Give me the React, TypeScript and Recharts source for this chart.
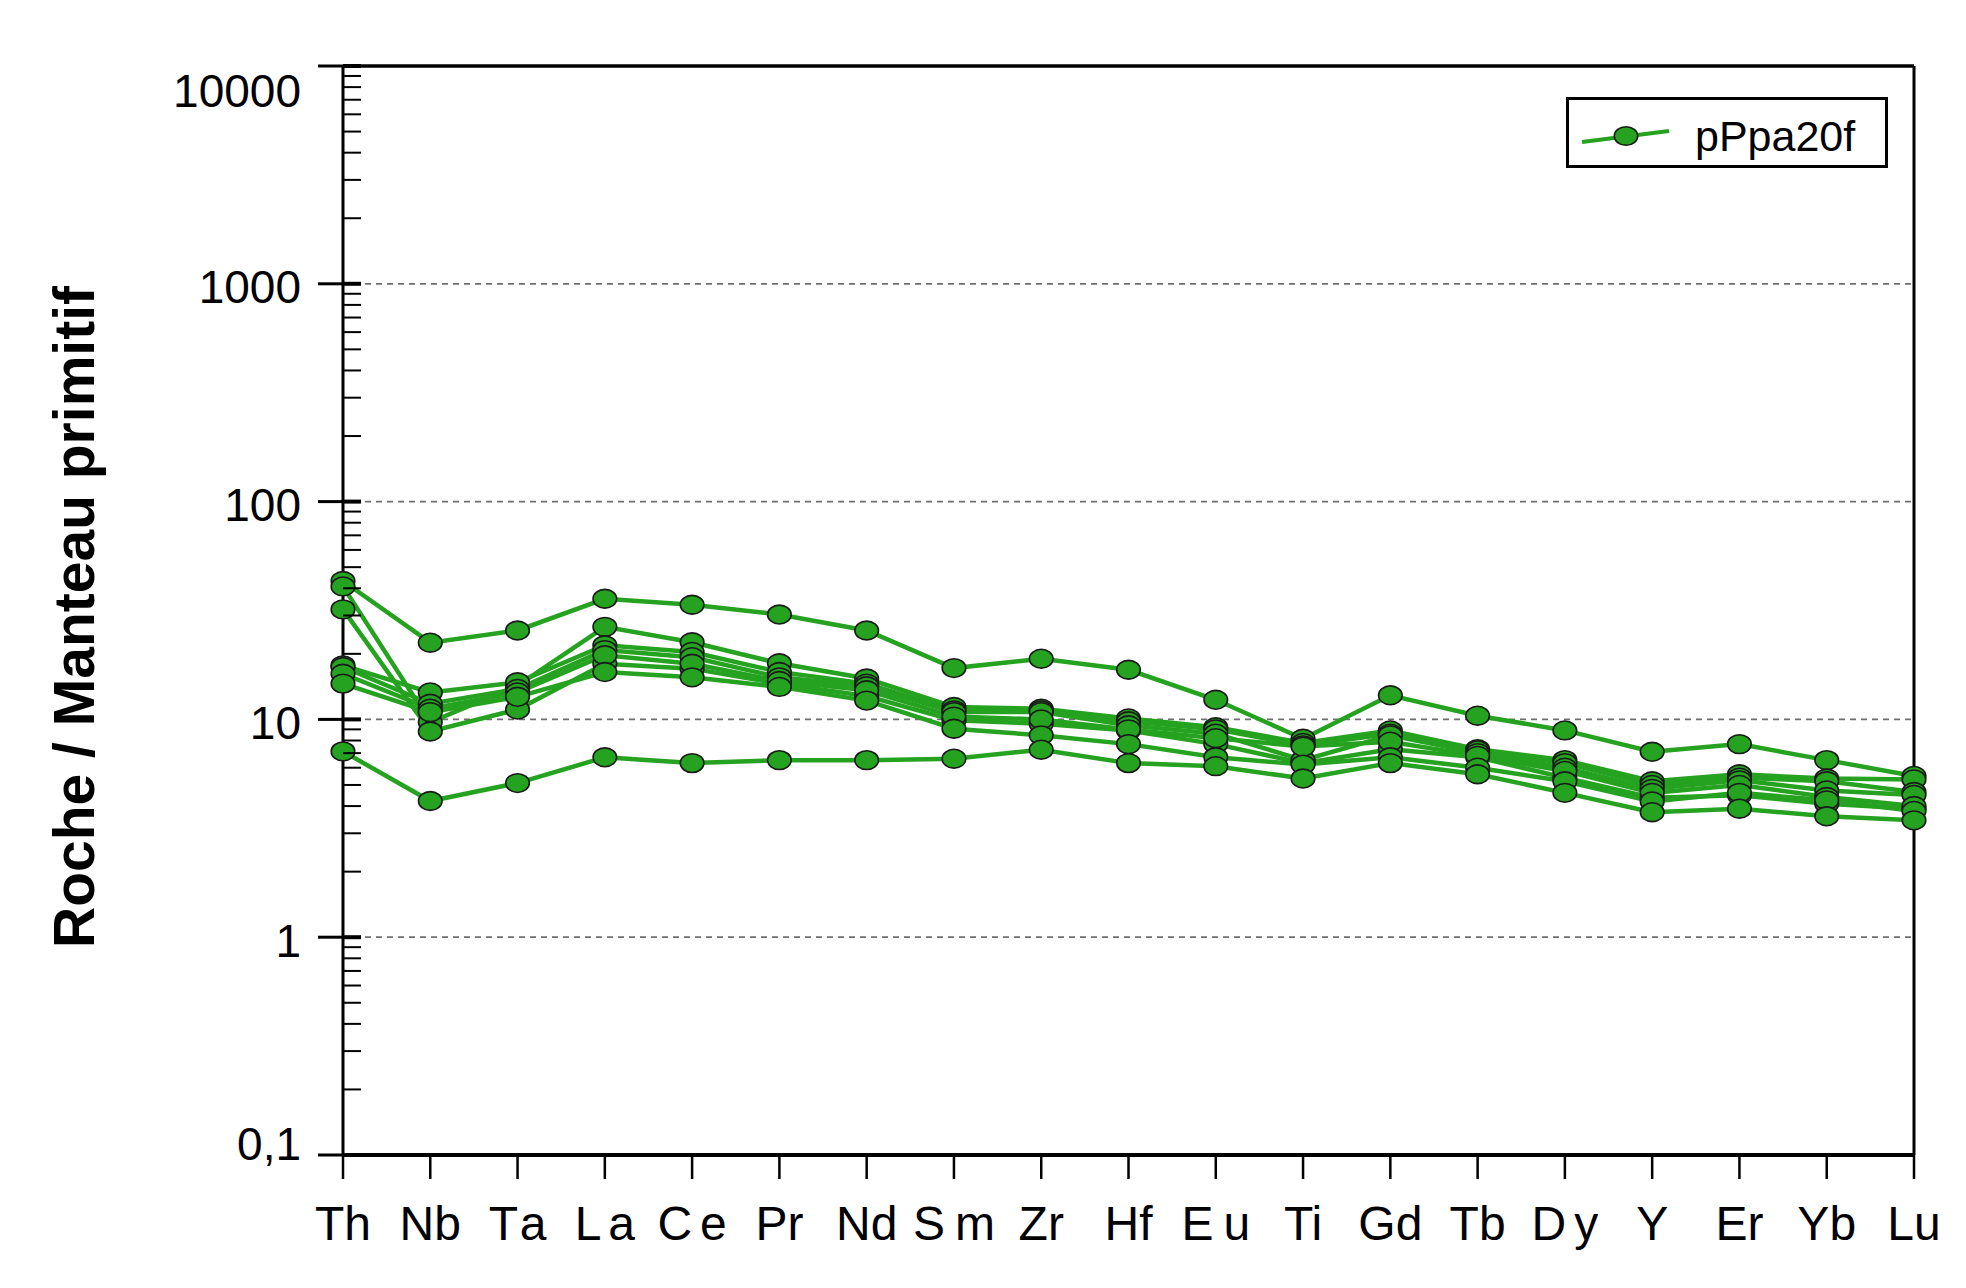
import React from 'react'
import { LineChart, Line, XAxis, YAxis, ReferenceLine, Legend } from 'recharts'

// elements on the x axis (spider diagram order)
const ELEMENTS = ['Th', 'Nb', 'Ta', 'La', 'Ce', 'Pr', 'Nd', 'Sm', 'Zr', 'Hf', 'Eu', 'Ti', 'Gd', 'Tb', 'Dy', 'Y', 'Er', 'Yb', 'Lu']

// sample / primitive mantle
const s1 = [43.2, 22.5, 25.6, 35.8, 33.6, 30.3, 25.6, 17.2, 19.0, 16.9, 12.3, 8.15, 12.9, 10.4, 8.9, 7.1, 7.7, 6.5, 5.5]
const s2 = [40.8, 9.7, 14.3, 26.6, 22.6, 18.1, 15.4, 11.4, 11.2, 10.1, 9.2, 7.8, 8.9, 7.3, 6.5, 5.2, 5.6, 5.35, 5.3]
const s3 = [32, 8.8, 11.1, 18, 17.1, 14.6, 12.8, 9.9, 9.55, 8.9, 7.7, 6.3, 7.3, 6.7, 5.4, 4.37, 4.48, 4.1, 3.89]
const s4 = [17.7, 13.3, 14.8, 21.9, 20.4, 16.5, 14.6, 11.0, 11.0, 9.8, 9.0, 7.6, 8.6, 7.2, 6.3, 5.0, 5.4, 5.2, 4.64]
const s5 = [17.4, 11.8, 13.8, 20.8, 19.3, 15.6, 14.2, 10.8, 10.8, 9.4, 8.6, 6.5, 8.45, 7.0, 6.0, 4.8, 5.25, 4.72, 4.5]
const s6 = [16.2, 11.2, 13.3, 19.7, 18, 15.0, 13.6, 10.3, 10.0, 9.0, 8.2, 7.5, 7.9, 6.8, 5.8, 4.6, 5.0, 4.4, 4.0]
const s7 = [14.6, 10.8, 12.7, 16.5, 15.6, 14.1, 12.2, 9.06, 8.45, 7.7, 6.7, 6.2, 6.7, 6.0, 5.2, 4.2, 4.6, 4.25, 3.8]
const s8 = [7.13, 4.22, 5.1, 6.7, 6.3, 6.5, 6.5, 6.6, 7.26, 6.3, 6.1, 5.35, 6.3, 5.6, 4.6, 3.75, 3.89, 3.59, 3.44]

const SERIES = [s1, s2, s3, s4, s5, s6, s7, s8]
const SERIES_NAME = 'pPpa20f'

const MAJOR_TICKS = [0.1, 1, 10, 100, 1000, 10000]
const GRID_VALUES = [1, 10, 100, 1000]
const MINOR_TICKS = [0.1, 1, 10, 100, 1000].flatMap(d => [2, 3, 4, 5, 6, 7, 8, 9].map(k => +(d * k).toPrecision(3)))
const ALL_TICKS = [...MAJOR_TICKS, ...MINOR_TICKS].sort((a, b) => a - b)

// some labels are printed with a gap between the letters in the original
const LABEL_SPACING: Record<string, number> = { Ta: 7, La: 7, Ce: 8, Sm: 10, Eu: 10, Dy: 8 }

const GREEN = '#25a21f'
const FONT = '"Liberation Sans", Arial, sans-serif'

const data = ELEMENTS.map((el, i) => {
  const row: any = { el }
  SERIES.forEach((s, j) => { row['s' + j] = s[i] })
  return row
})

function fmtTick(v: number) {
  return String(v).replace('.', ',')
}

function YTick(props: any) {
  const { x, y, payload } = props
  const v = payload.value
  const major = MAJOR_TICKS.includes(v)
  if (!major) {
    return <line x1={x} x2={x + 18} y1={y} y2={y} stroke="#000" strokeWidth={2} />
  }
  let shift = 3
  if (v === 10000) shift = 24
  if (v === 0.1) shift = -12
  return (
    <g>
      <line x1={x - 25} x2={x} y1={y} y2={y} stroke="#000" strokeWidth={3} />
      <line x1={x} x2={x + 18} y1={y} y2={y} stroke="#000" strokeWidth={4} />
      <text x={x - 42} y={y + shift} dy="0.36em" textAnchor="end" fontFamily={FONT} fontSize={46} fill="#000">
        {fmtTick(v)}
      </text>
    </g>
  )
}

function XTick(props: any) {
  const { x, y, payload } = props
  const sp = LABEL_SPACING[payload.value] || 0
  return (
    <text
      x={x + sp / 2}
      y={y}
      dy="0.71em"
      textAnchor="middle"
      fontFamily={FONT}
      fontSize={48}
      letterSpacing={sp}
      fill="#000"
    >
      {payload.value}
    </text>
  )
}

function Dot(props: any) {
  const { cx, cy } = props
  if (cx == null || cy == null) return null
  return <ellipse cx={cx} cy={cy} rx={11.8} ry={9.4} fill={GREEN} stroke="#1a1a1a" strokeWidth={1.6} />
}

function LegendBox() {
  return (
    <div style={{ width: 322, height: 71, border: '3.5px solid #000', boxSizing: 'border-box', background: '#fff' }}>
      <svg width={315} height={64}>
        <line x1={13} y1={42} x2={100} y2={31} stroke={GREEN} strokeWidth={4} />
        <ellipse cx={57} cy={36} rx={11.7} ry={9.3} fill={GREEN} stroke="#1a1a1a" strokeWidth={1.6} />
        <text x={126} y={36} dy="0.36em" fontFamily={FONT} fontSize={43} fill="#000">{SERIES_NAME}</text>
      </svg>
    </div>
  )
}

export default function App() {
  return (
    <div style={{ position: 'absolute', left: 0, top: 0, width: 1966, height: 1288, background: '#fff' }}>
      <LineChart width={1966} height={1288} data={data} margin={{ top: 66, right: 52, left: 0, bottom: 0 }}>
        <XAxis
          dataKey="el"
          type="category"
          interval={0}
          padding={{ left: 0, right: 0 }}
          height={133}
          axisLine={{ stroke: '#000', strokeWidth: 4 }}
          tickLine={{ stroke: '#000', strokeWidth: 2.5 }}
          tickSize={24}
          tickMargin={27}
          tick={<XTick />}
        />
        <YAxis
          yAxisId="y"
          type="number"
          scale="log"
          domain={[0.1, 10000]}
          allowDataOverflow
          ticks={ALL_TICKS}
          interval={0}
          width={343}
          tickSize={0}
          tickMargin={0}
          tickLine={false}
          axisLine={{ stroke: '#000', strokeWidth: 3 }}
          tick={<YTick />}
          label={{
            content: () => (
              <text
                x={94}
                y={617}
                transform="rotate(-90 94 617)"
                textAnchor="middle"
                fontFamily={FONT}
                fontWeight="bold"
                fontSize={57}
                fill="#000"
              >
                Roche / Manteau primitif
              </text>
            ),
          }}
        />
        {GRID_VALUES.map(v => (
          <ReferenceLine key={v} yAxisId="y" y={v} stroke="#6f6f6f" strokeWidth={1.8} strokeDasharray="6 5" />
        ))}
        <ReferenceLine yAxisId="y" y={10000} stroke="#000" strokeWidth={3.5} />
        <ReferenceLine yAxisId="y" x="Lu" stroke="#000" strokeWidth={3} />
        <Legend
          layout="vertical"
          align="center"
          verticalAlign="middle"
          content={() => <LegendBox />}
          wrapperStyle={{ position: 'absolute', left: 1566, top: 97, width: 322, height: 71 }}
        />
        {SERIES.map((_, j) => (
          <Line
            key={j}
            yAxisId="y"
            type="linear"
            dataKey={'s' + j}
            name={SERIES_NAME}
            stroke={GREEN}
            strokeWidth={4.5}
            dot={<Dot />}
            activeDot={false}
            isAnimationActive={false}
          />
        ))}
      </LineChart>
    </div>
  )
}
